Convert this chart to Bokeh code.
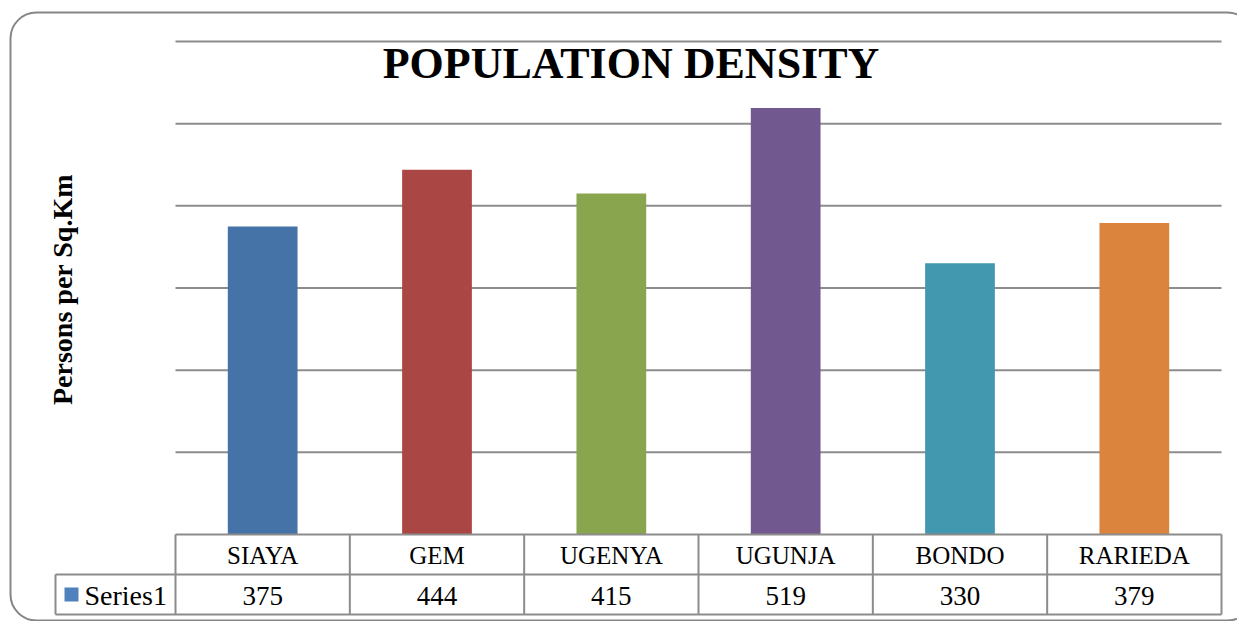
import math
from bokeh.plotting import figure
from bokeh.models import Range1d, BoxAnnotation
from bokeh.core.properties import value
from bokeh.embed import file_html
from bokeh.resources import INLINE

# ---- data ----
categories = ["SIAYA", "GEM", "UGENYA", "UGUNJA", "BONDO", "RARIEDA"]
density = [375, 444, 415, 519, 330, 379]
bar_colors = ["#4572A7", "#AA4643", "#89A54E", "#71588F", "#4198AF", "#DB843D"]
grid_values = [100, 200, 300, 400, 500, 600]
series_name = "Series1"
title_text = "POPULATION DENSITY"
y_title = "Persons per Sq.Km"

# ---- layout helpers (page pixel -> data) ----
OFF = 0
W, H = 1237, 621
PLOT_L, PLOT_R, PLOT_T, PLOT_B = 175, 1221, 41, 534
N = len(categories)
CW = (PLOT_R - PLOT_L) / N
YMAX = 600
PPU = (PLOT_B - PLOT_T) / YMAX


def X(px):
    return (px - PLOT_L) / CW


def Y(py):
    return (PLOT_B - py) / PPU


SERIF = "Liberation Serif"
GRAY = "#8c8c8c"

p = figure(width=W, height=H, output_backend="svg", toolbar_location=None,
           x_range=Range1d(X(OFF), X(OFF + W)), y_range=Range1d(Y(OFF + H), Y(OFF)),
           min_border=0)
p.axis.visible = False
p.grid.visible = False
p.outline_line_color = None
p.background_fill_color = "white"
p.border_fill_color = "white"

# outer rounded border
p.add_layout(BoxAnnotation(left=X(10), right=X(1253), top=Y(12), bottom=Y(620),
                           fill_alpha=0, line_color="#868686", line_alpha=1.0,
                           line_width=2, border_radius=26))

# gridlines
p.segment(x0=[0] * len(grid_values), x1=[N] * len(grid_values),
          y0=grid_values, y1=grid_values, line_color=GRAY, line_width=2)

# bars
xs = [i + 0.5 for i in range(N)]
p.vbar(x=xs, top=density, bottom=0, width=0.4, fill_color=bar_colors,
       line_color=None)

# data table lines
row1 = Y(574)
row2 = Y(614)
lx = X(55)
p.segment(x0=[0, lx, lx], x1=[N, N, N], y0=[0, row1, row2], y1=[0, row1, row2],
          line_color=GRAY, line_width=2)
vx = list(range(N + 1))
p.segment(x0=vx, x1=vx, y0=[0] * len(vx), y1=[row2] * len(vx),
          line_color=GRAY, line_width=2)
p.segment(x0=[lx], x1=[lx], y0=[row1], y1=[row2], line_color=GRAY, line_width=2)

# table texts
p.text(x=xs, y=[Y(555)] * N, text=categories, text_align="center",
       text_baseline="middle", text_font=value(SERIF),
       text_font_size=value("25px"), text_color="black")
p.text(x=xs, y=[Y(595)] * N, text=[str(v) for v in density], text_align="center",
       text_baseline="middle", text_font=value(SERIF),
       text_font_size=value("27px"), text_color="black")

# legend key
p.scatter(x=[X(71)], y=[Y(594)], marker="square", size=14,
          fill_color="#4F81BD", line_color=None)
p.text(x=[X(84)], y=[Y(595)], text=[series_name], text_align="left",
       text_baseline="middle", text_font=value(SERIF),
       text_font_size=value("28px"), text_color="black")

# title
p.text(x=[X(630.5)], y=[Y(63)], text=[title_text], text_align="center",
       text_baseline="middle", text_font=value(SERIF), text_font_style="bold",
       text_font_size=value("44px"), text_color="black")

# y axis title
p.text(x=[X(62)], y=[Y(289)], text=[y_title], angle=math.pi / 2,
       text_align="center", text_baseline="middle", text_font=value(SERIF),
       text_font_style="bold", text_font_size=value("28px"), text_color="black")

open("out.html", "w").write(file_html(p, INLINE))
